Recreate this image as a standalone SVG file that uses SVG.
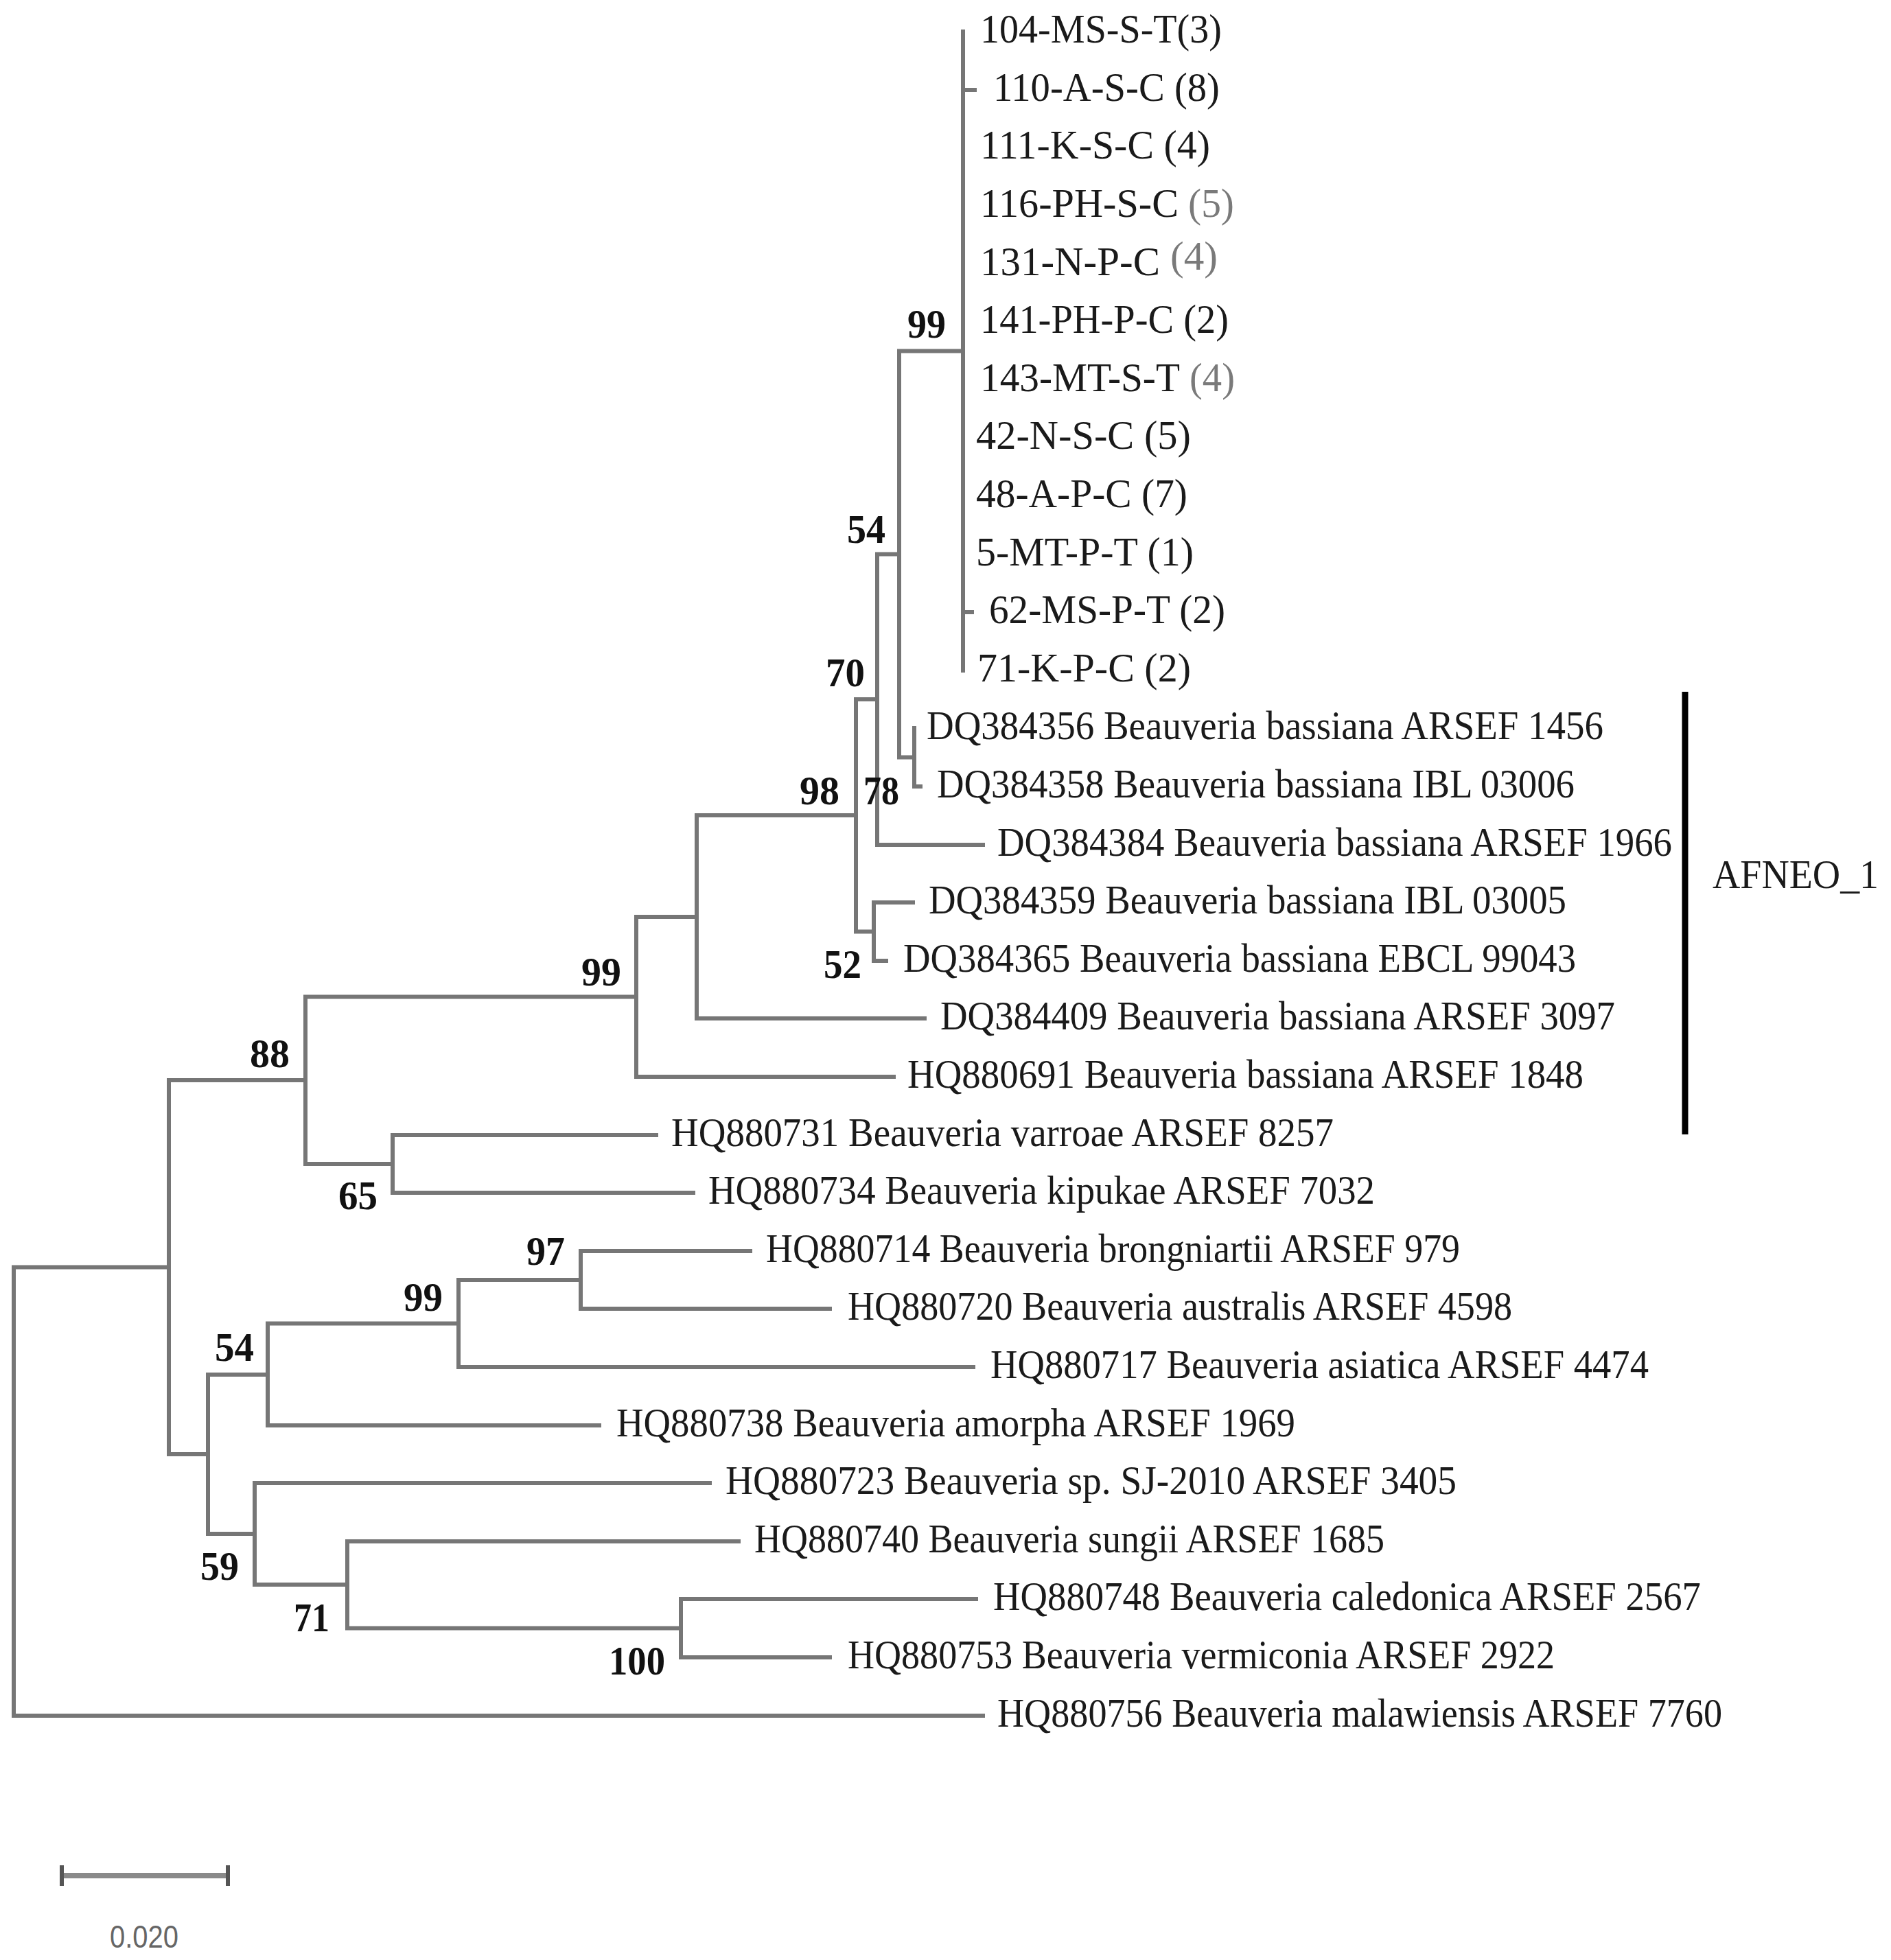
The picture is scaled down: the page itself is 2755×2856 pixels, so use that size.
<svg xmlns="http://www.w3.org/2000/svg" width="2755" height="2856" viewBox="0 0 2755 2856">
<style>
.br{fill:none;stroke:#767676;stroke-width:6;stroke-linecap:square}
.lb{font-family:"Liberation Serif","Times New Roman",serif;font-size:60px;fill:#1a1a1a}
.bs{font-family:"Liberation Serif","Times New Roman",serif;font-size:60px;font-weight:bold;fill:#111}
.gr{fill:#7a7a7a}
</style>
<rect width="2755" height="2856" fill="#fff"/>
<g id="connectors" class="br">
<path d="M20,1846.5V2500M20,1846.5H246M20,2500H1432"/>
<path d="M246,1574V2119M246,1574H445M246,2119H303"/>
<path d="M445,1452.5V1696M445,1452.5H927M445,1696H572"/>
<path d="M927,1336V1569M927,1336H1015M927,1569H1302"/>
<path d="M1015,1188V1484M1015,1188H1247M1015,1484H1347"/>
<path d="M1247,1019V1357.5M1247,1019H1278M1247,1357.5H1273"/>
<path d="M1278,807.6V1231M1278,807.6H1310M1278,1231H1432"/>
<path d="M1310,511.5V1103.5M1310,511.5H1403M1310,1103.5H1332"/>
<path d="M1403,46V977M1403,131H1420M1403,892H1416"/>
<path d="M1332,1061V1146M1332,1146H1341"/>
<path d="M1273,1315V1400M1273,1315H1330M1273,1400H1291"/>
<path d="M572,1654V1738M572,1654H956M572,1738H1010"/>
<path d="M303,2003V2235M303,2003H390M303,2235H371"/>
<path d="M390,1928.5V2077M390,1928.5H668M390,2077H873"/>
<path d="M668,1865V1992M668,1865H846M668,1992H1418"/>
<path d="M846,1823V1907M846,1823H1093M846,1907H1209"/>
<path d="M371,2161V2309M371,2161H1034M371,2309H506"/>
<path d="M506,2246V2372.5M506,2246H1076M506,2372.5H992"/>
<path d="M992,2330V2415M992,2330H1422M992,2415H1209"/>
</g>
<g id="leaves" class="lb">
<g id="leaf-104"><text x="1428" y="62" textLength="352" lengthAdjust="spacingAndGlyphs">104-MS-S-T(3)</text></g>
<g id="leaf-110"><text x="1447" y="147" textLength="330" lengthAdjust="spacingAndGlyphs">110-A-S-C (8)</text></g>
<g id="leaf-111"><text x="1428" y="231" textLength="335" lengthAdjust="spacingAndGlyphs">111-K-S-C (4)</text></g>
<g id="leaf-116"><text x="1428" y="316" textLength="289" lengthAdjust="spacingAndGlyphs">116-PH-S-C</text><text class="gr" x="1731" y="316" textLength="67" lengthAdjust="spacingAndGlyphs">(5)</text></g>
<g id="leaf-131"><text x="1428" y="401" textLength="262" lengthAdjust="spacingAndGlyphs">131-N-P-C</text><text class="gr" x="1705" y="393" textLength="69" lengthAdjust="spacingAndGlyphs">(4)</text></g>
<g id="leaf-141"><text x="1428" y="485" textLength="362" lengthAdjust="spacingAndGlyphs">141-PH-P-C (2)</text></g>
<g id="leaf-143"><text x="1428" y="570" textLength="291" lengthAdjust="spacingAndGlyphs">143-MT-S-T</text><text class="gr" x="1733" y="570" textLength="66" lengthAdjust="spacingAndGlyphs">(4)</text></g>
<g id="leaf-42"><text x="1422" y="654" textLength="313" lengthAdjust="spacingAndGlyphs">42-N-S-C (5)</text></g>
<g id="leaf-48"><text x="1422" y="739" textLength="308" lengthAdjust="spacingAndGlyphs">48-A-P-C (7)</text></g>
<g id="leaf-5"><text x="1422" y="824" textLength="317" lengthAdjust="spacingAndGlyphs">5-MT-P-T (1)</text></g>
<g id="leaf-62"><text x="1441" y="908" textLength="344" lengthAdjust="spacingAndGlyphs">62-MS-P-T (2)</text></g>
<g id="leaf-71"><text x="1424" y="993" textLength="311" lengthAdjust="spacingAndGlyphs">71-K-P-C (2)</text></g>
<g id="leaf-DQ384356"><text x="1350" y="1077" textLength="986" lengthAdjust="spacingAndGlyphs">DQ384356 Beauveria bassiana ARSEF 1456</text></g>
<g id="leaf-DQ384358"><text x="1365" y="1162" textLength="929" lengthAdjust="spacingAndGlyphs">DQ384358 Beauveria bassiana IBL 03006</text></g>
<g id="leaf-DQ384384"><text x="1453" y="1247" textLength="983" lengthAdjust="spacingAndGlyphs">DQ384384 Beauveria bassiana ARSEF 1966</text></g>
<g id="leaf-DQ384359"><text x="1353" y="1331" textLength="929" lengthAdjust="spacingAndGlyphs">DQ384359 Beauveria bassiana IBL 03005</text></g>
<g id="leaf-DQ384365"><text x="1316" y="1416" textLength="980" lengthAdjust="spacingAndGlyphs">DQ384365 Beauveria bassiana EBCL 99043</text></g>
<g id="leaf-DQ384409"><text x="1370" y="1500" textLength="983" lengthAdjust="spacingAndGlyphs">DQ384409 Beauveria bassiana ARSEF 3097</text></g>
<g id="leaf-HQ880691"><text x="1322" y="1585" textLength="985" lengthAdjust="spacingAndGlyphs">HQ880691 Beauveria bassiana ARSEF 1848</text></g>
<g id="leaf-HQ880731"><text x="978" y="1670" textLength="965" lengthAdjust="spacingAndGlyphs">HQ880731 Beauveria varroae ARSEF 8257</text></g>
<g id="leaf-HQ880734"><text x="1032" y="1754" textLength="971" lengthAdjust="spacingAndGlyphs">HQ880734 Beauveria kipukae ARSEF 7032</text></g>
<g id="leaf-HQ880714"><text x="1116" y="1839" textLength="1011" lengthAdjust="spacingAndGlyphs">HQ880714 Beauveria brongniartii ARSEF 979</text></g>
<g id="leaf-HQ880720"><text x="1235" y="1923" textLength="968" lengthAdjust="spacingAndGlyphs">HQ880720 Beauveria australis ARSEF 4598</text></g>
<g id="leaf-HQ880717"><text x="1443" y="2008" textLength="959" lengthAdjust="spacingAndGlyphs">HQ880717 Beauveria asiatica ARSEF 4474</text></g>
<g id="leaf-HQ880738"><text x="898" y="2093" textLength="989" lengthAdjust="spacingAndGlyphs">HQ880738 Beauveria amorpha ARSEF 1969</text></g>
<g id="leaf-HQ880723"><text x="1057" y="2177" textLength="1065" lengthAdjust="spacingAndGlyphs">HQ880723 Beauveria sp. SJ-2010 ARSEF 3405</text></g>
<g id="leaf-HQ880740"><text x="1099" y="2262" textLength="918" lengthAdjust="spacingAndGlyphs">HQ880740 Beauveria sungii ARSEF 1685</text></g>
<g id="leaf-HQ880748"><text x="1447" y="2346" textLength="1031" lengthAdjust="spacingAndGlyphs">HQ880748 Beauveria caledonica ARSEF 2567</text></g>
<g id="leaf-HQ880753"><text x="1235" y="2431" textLength="1030" lengthAdjust="spacingAndGlyphs">HQ880753 Beauveria vermiconia ARSEF 2922</text></g>
<g id="leaf-HQ880756"><text x="1453" y="2516" textLength="1056" lengthAdjust="spacingAndGlyphs">HQ880756 Beauveria malawiensis ARSEF 7760</text></g>
</g>
<g id="bootstrap" class="bs">
<text x="1322" y="492" textLength="56" lengthAdjust="spacingAndGlyphs">99</text>
<text x="1234" y="791" textLength="56" lengthAdjust="spacingAndGlyphs">54</text>
<text x="1203" y="1000" textLength="57" lengthAdjust="spacingAndGlyphs">70</text>
<text x="1165" y="1172" textLength="58" lengthAdjust="spacingAndGlyphs">98</text>
<text x="1258" y="1172" textLength="52" lengthAdjust="spacingAndGlyphs">78</text>
<text x="1200" y="1425" textLength="55" lengthAdjust="spacingAndGlyphs">52</text>
<text x="847" y="1436" textLength="58" lengthAdjust="spacingAndGlyphs">99</text>
<text x="364" y="1555" textLength="58" lengthAdjust="spacingAndGlyphs">88</text>
<text x="493" y="1762" textLength="57" lengthAdjust="spacingAndGlyphs">65</text>
<text x="767" y="1843" textLength="56" lengthAdjust="spacingAndGlyphs">97</text>
<text x="588" y="1910" textLength="57" lengthAdjust="spacingAndGlyphs">99</text>
<text x="313" y="1983" textLength="57" lengthAdjust="spacingAndGlyphs">54</text>
<text x="292" y="2302" textLength="56" lengthAdjust="spacingAndGlyphs">59</text>
<text x="428" y="2377" textLength="52" lengthAdjust="spacingAndGlyphs">71</text>
<text x="887" y="2440" textLength="82" lengthAdjust="spacingAndGlyphs">100</text>
</g>
<g id="clade-AFNEO_1">
<line x1="2455" y1="1008" x2="2455" y2="1653" stroke="#000" stroke-width="9"/>
<text class="lb" x="2495" y="1294" textLength="242" lengthAdjust="spacingAndGlyphs">AFNEO_1</text>
</g>
<g id="scale-bar">
<line x1="90" y1="2733" x2="332" y2="2733" stroke="#8a8a8a" stroke-width="8"/>
<line x1="90" y1="2718" x2="90" y2="2748" stroke="#555" stroke-width="6"/>
<line x1="332" y1="2718" x2="332" y2="2748" stroke="#555" stroke-width="6"/>
<text x="160" y="2838" font-family="Liberation Sans, Arial, sans-serif" font-size="46" fill="#666" textLength="100" lengthAdjust="spacingAndGlyphs">0.020</text>
</g>
</svg>
